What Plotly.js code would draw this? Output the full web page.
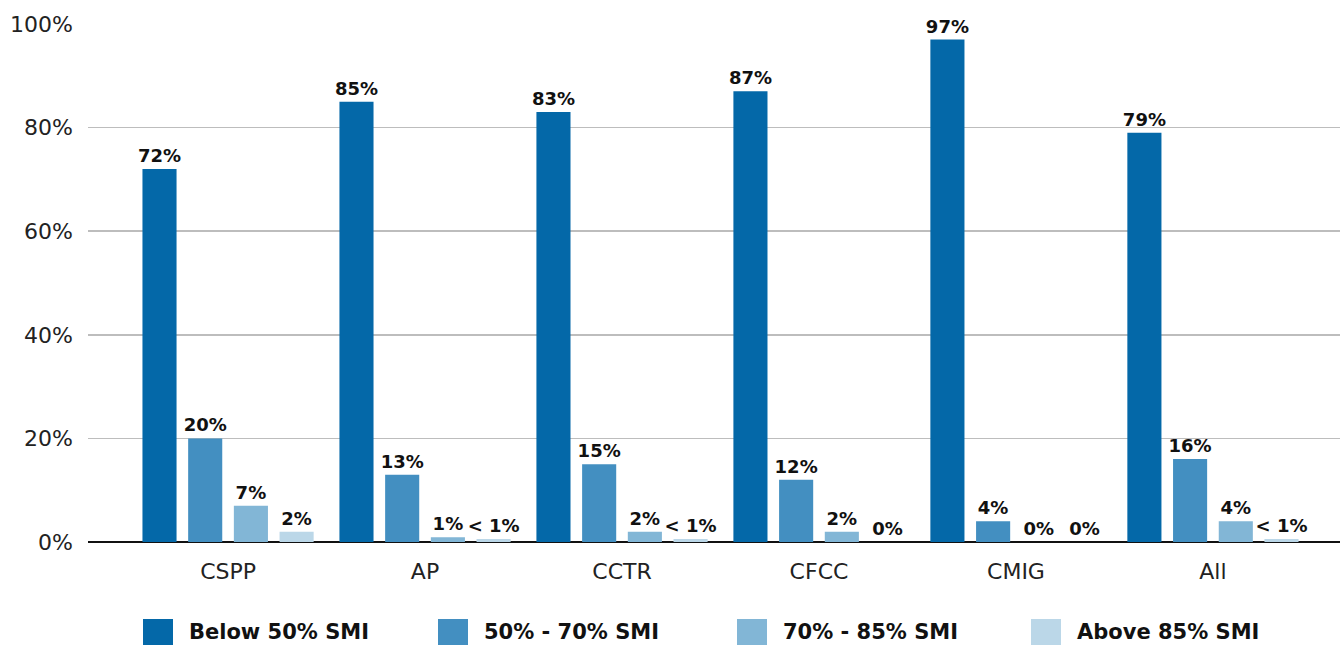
<!DOCTYPE html>
<html><head><meta charset="utf-8">
<script src="https://cdn.plot.ly/plotly-3.0.1.min.js"></script>
<style>body{margin:0;background:#fff}#c{width:1340px;height:646px}</style>
</head><body><div id="c"></div>
<script>
const categories = ["CSPP","AP","CCTR","CFCC","CMIG","All"];
const seriesNames = ["Below 50% SMI","50% - 70% SMI","70% - 85% SMI","Above 85% SMI"];
const below50 = [72,85,83,87,97,79];
const mid5070 = [20,13,15,12,4,16];
const mid7085 = [7,0.9,2,2,0,4];
const above85 = [2,0.6,0.6,0,0,0.6];
const below50Labels = ["72%","85%","83%","87%","97%","79%"];
const mid5070Labels = ["20%","13%","15%","12%","4%","16%"];
const mid7085Labels = ["7%","1%","2%","2%","0%","4%"];
const above85Labels = ["2%","< 1%","< 1%","0%","0%","< 1%"];
const colors = ["#0468A8","#438FC1","#82B6D6","#BBD7E8"];
const tickVals = [0,20,40,60,80,100];
const tickText = ["0%","20%","40%","60%","80%","100%"];

const vals = [below50, mid5070, mid7085, above85];
const labs = [below50Labels, mid5070Labels, mid7085Labels, above85Labels];
const BOLD = "'DejaVu Sans', sans-serif";
const REG = "'DejaVu Sans', sans-serif";

const traces = vals.map((v,i)=>({
  type:'bar', x:categories, y:v, name:seriesNames[i],
  marker:{color:colors[i]}, text:labs[i], textposition:'outside',
  texttemplate:'%{text}', cliponaxis:false, constraintext:'none',
  textfont:{family:BOLD, size:18, color:'#111', weight:700},
  showlegend:false, hoverinfo:'skip'
}));

// Custom legend (large swatches)
const legX = [143, 438, 737, 1031];
const shapes = [], annotations = [];
seriesNames.forEach((n,i)=>{
  shapes.push({type:'rect', xref:'paper', yref:'paper',
    x0:(legX[i]-88)/1252, x1:(legX[i]+30-88)/1252,
    y0:(542-645)/518, y1:(542-619)/518,
    fillcolor:colors[i], line:{width:0}});
  annotations.push({xref:'paper', yref:'paper', x:(legX[i]+44-88)/1252, y:(542-632)/518,
    xanchor:'left', yanchor:'middle', showarrow:false, text:'<b>'+n+'</b>',
    font:{family:BOLD, size:21, color:'#111'}});
});

const layout = {
  width:1340, height:646,
  margin:{l:88, r:0, t:24, b:104},
  paper_bgcolor:'#fff', plot_bgcolor:'#fff',
  barmode:'group', bargap:0.072, bargroupgap:0.254,
  font:{family:REG, color:'#222'},
  xaxis:{range:[-0.711,5.645], tickfont:{family:REG, size:22, color:'#222'}, ticks:'', showgrid:false,
    showline:false, zeroline:false, fixedrange:true, ticklabelstandoff:14},
  yaxis:{range:[0,100], tickvals:tickVals, ticktext:tickText, tickfont:{family:REG, size:22, color:'#222'},
    showgrid:true, gridcolor:'#BDBDBD', gridwidth:1.5, zeroline:true, zerolinecolor:'#111',
    zerolinewidth:2, ticks:'', ticklabelstandoff:14, showline:false},
  shapes:shapes, annotations:annotations
};
Plotly.newPlot('c', traces, layout, {displayModeBar:false, staticPlot:true});
</script></body></html>
